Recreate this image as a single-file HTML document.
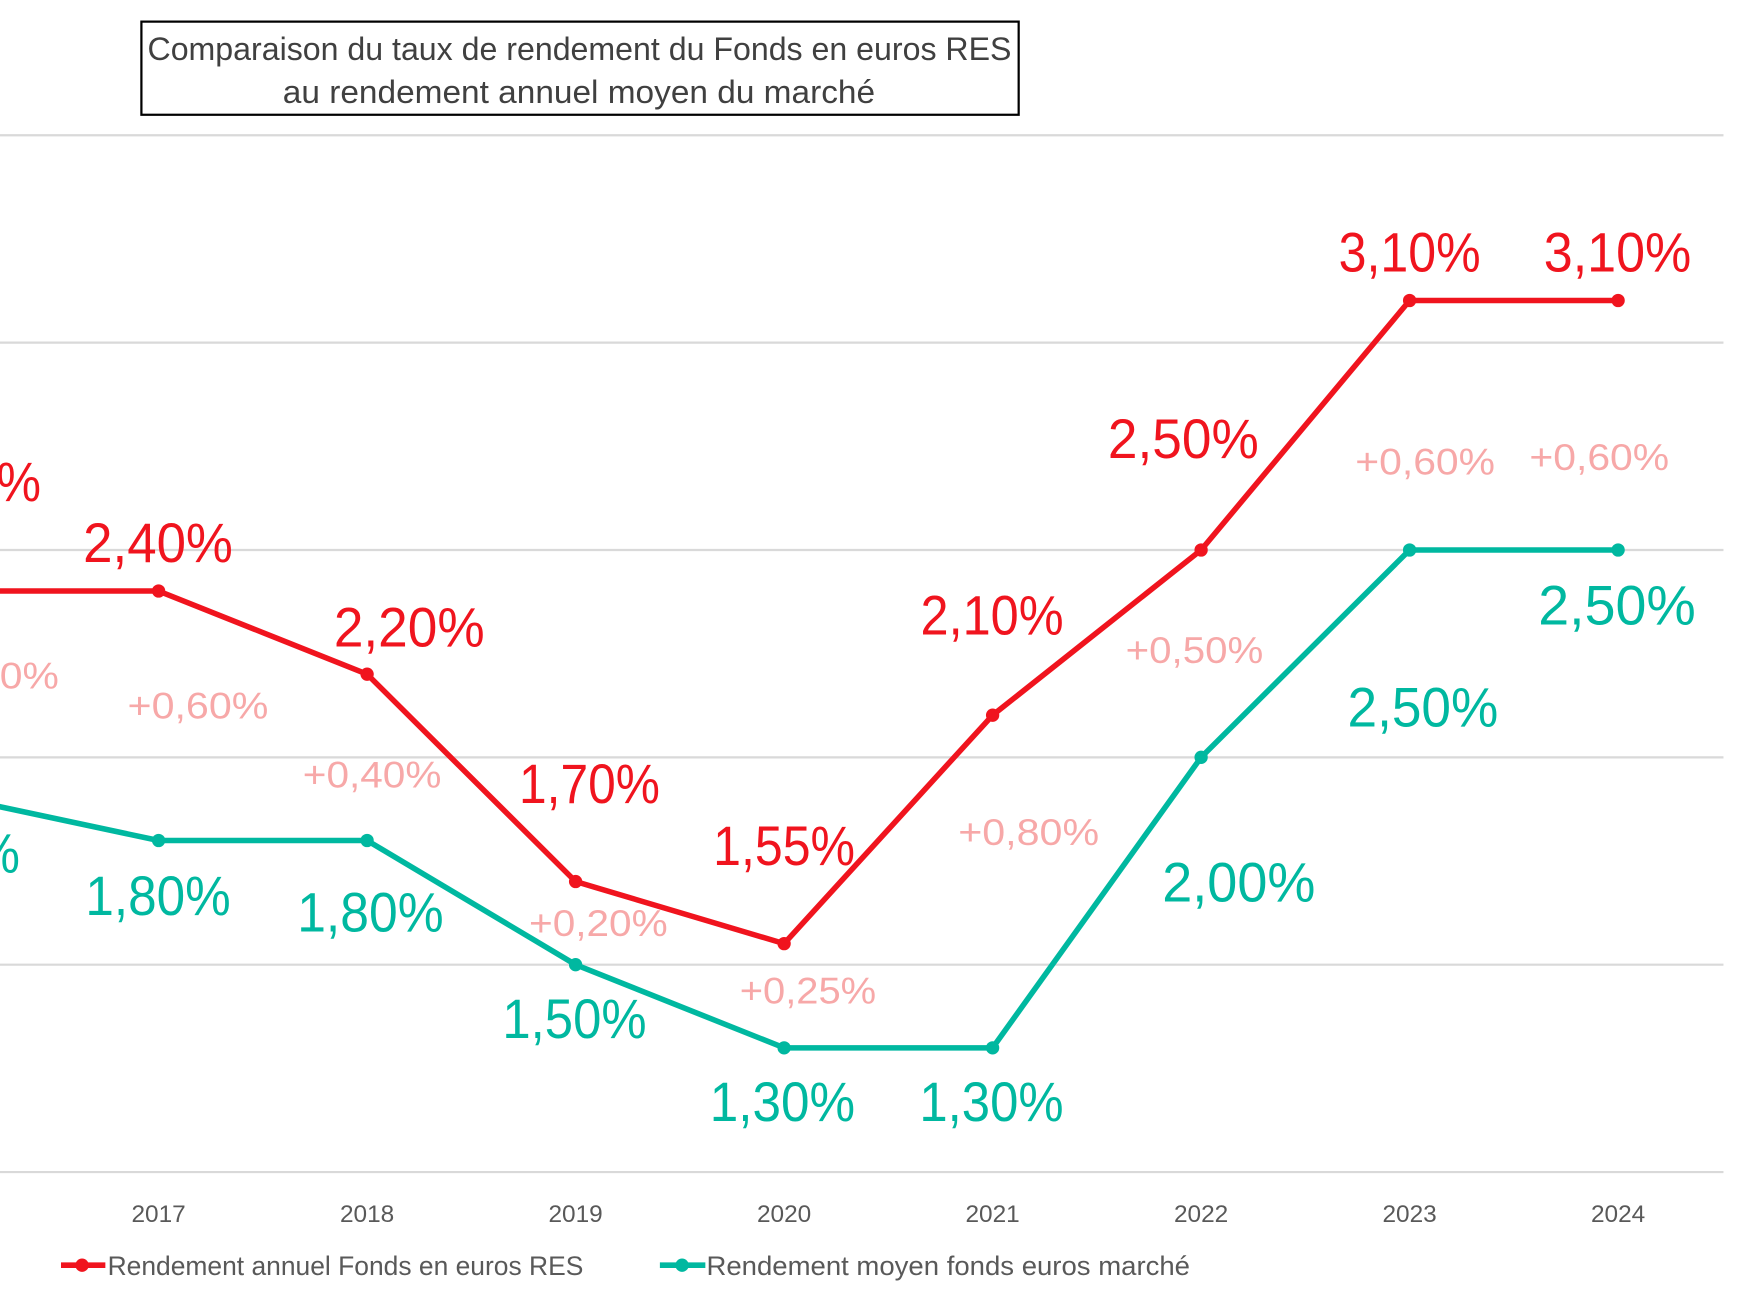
<!DOCTYPE html>
<html><head><meta charset="utf-8"><style>html,body{margin:0;padding:0;background:#fff;overflow:hidden}svg{display:block}text{font-family:"Liberation Sans",sans-serif}</style></head><body>
<svg width="1739" height="1304" viewBox="0 0 1568 1176" preserveAspectRatio="none" xmlns="http://www.w3.org/2000/svg">
<rect width="1568" height="1176" fill="#fff"/>
<g stroke="#d9d9d9" stroke-width="2">
<line x1="0" y1="122" x2="1554" y2="122"/><line x1="0" y1="309" x2="1554" y2="309"/><line x1="0" y1="496" x2="1554" y2="496"/><line x1="0" y1="683" x2="1554" y2="683"/><line x1="0" y1="870" x2="1554" y2="870"/><line x1="0" y1="1057" x2="1554" y2="1057"/>
</g>
<rect x="127.5" y="19.5" width="791" height="84" fill="#fff" stroke="#000" stroke-width="2"/>
<g fill="#404040" font-size="29">
<text x="133" y="54" textLength="779" lengthAdjust="spacingAndGlyphs">Comparaison du taux de rendement du Fonds en euros RES</text>
<text x="255" y="93" textLength="534" lengthAdjust="spacingAndGlyphs">au rendement annuel moyen du marché</text>
</g>
<polyline fill="none" stroke="#00b8a0" stroke-width="5" stroke-linejoin="round" points="-45,718 143,758 331,758 519,870 707,945 895,945 1083,683 1271,496 1459,496"/>
<polyline fill="none" stroke="#f0141e" stroke-width="5" stroke-linejoin="round" points="-45,533 143,533 331,608 519,795 707,851 895,645 1083,496 1271,271 1459,271"/>
<g fill="#00b8a0"><circle cx="143" cy="758" r="6"/><circle cx="331" cy="758" r="6"/><circle cx="519" cy="870" r="6"/><circle cx="707" cy="945" r="6"/><circle cx="895" cy="945" r="6"/><circle cx="1083" cy="683" r="6"/><circle cx="1271" cy="496" r="6"/><circle cx="1459" cy="496" r="6"/></g>
<g fill="#f0141e"><circle cx="143" cy="533" r="6"/><circle cx="331" cy="608" r="6"/><circle cx="519" cy="795" r="6"/><circle cx="707" cy="851" r="6"/><circle cx="895" cy="645" r="6"/><circle cx="1083" cy="496" r="6"/><circle cx="1271" cy="271" r="6"/><circle cx="1459" cy="271" r="6"/></g>
<g fill="#f0141e" font-size="50">
<text x="-91" y="452" textLength="128" lengthAdjust="spacingAndGlyphs">2,40%</text>
<text x="75" y="507" textLength="135" lengthAdjust="spacingAndGlyphs">2,40%</text>
<text x="301" y="583" textLength="136" lengthAdjust="spacingAndGlyphs">2,20%</text>
<text x="468" y="724" textLength="127" lengthAdjust="spacingAndGlyphs">1,70%</text>
<text x="643" y="780" textLength="128" lengthAdjust="spacingAndGlyphs">1,55%</text>
<text x="830" y="572" textLength="129" lengthAdjust="spacingAndGlyphs">2,10%</text>
<text x="999" y="413" textLength="136" lengthAdjust="spacingAndGlyphs">2,50%</text>
<text x="1207" y="245" textLength="128" lengthAdjust="spacingAndGlyphs">3,10%</text>
<text x="1392" y="245" textLength="133" lengthAdjust="spacingAndGlyphs">3,10%</text>
</g>
<g fill="#00b8a0" font-size="50">
<text x="-112" y="787" textLength="130" lengthAdjust="spacingAndGlyphs">1,90%</text>
<text x="77" y="825" textLength="131" lengthAdjust="spacingAndGlyphs">1,80%</text>
<text x="268" y="840" textLength="132" lengthAdjust="spacingAndGlyphs">1,80%</text>
<text x="453" y="936" textLength="130" lengthAdjust="spacingAndGlyphs">1,50%</text>
<text x="640" y="1011" textLength="131" lengthAdjust="spacingAndGlyphs">1,30%</text>
<text x="829" y="1011" textLength="130" lengthAdjust="spacingAndGlyphs">1,30%</text>
<text x="1048" y="813" textLength="138" lengthAdjust="spacingAndGlyphs">2,00%</text>
<text x="1215" y="655" textLength="136" lengthAdjust="spacingAndGlyphs">2,50%</text>
<text x="1387" y="563" textLength="142" lengthAdjust="spacingAndGlyphs">2,50%</text>
</g>
<g fill="#f7a8a8" font-size="33">
<text x="-73" y="621" textLength="126" lengthAdjust="spacingAndGlyphs">+0,50%</text>
<text x="115" y="648" textLength="127" lengthAdjust="spacingAndGlyphs">+0,60%</text>
<text x="273" y="710" textLength="125" lengthAdjust="spacingAndGlyphs">+0,40%</text>
<text x="477" y="844" textLength="125" lengthAdjust="spacingAndGlyphs">+0,20%</text>
<text x="667" y="905" textLength="123" lengthAdjust="spacingAndGlyphs">+0,25%</text>
<text x="864" y="762" textLength="127" lengthAdjust="spacingAndGlyphs">+0,80%</text>
<text x="1015" y="598" textLength="124" lengthAdjust="spacingAndGlyphs">+0,50%</text>
<text x="1222" y="428" textLength="126" lengthAdjust="spacingAndGlyphs">+0,60%</text>
<text x="1379" y="424" textLength="126" lengthAdjust="spacingAndGlyphs">+0,60%</text>
</g>
<g fill="#595959" font-size="22" text-anchor="middle">
<text x="143" y="1102">2017</text><text x="331" y="1102">2018</text><text x="519" y="1102">2019</text><text x="707" y="1102">2020</text><text x="895" y="1102">2021</text><text x="1083" y="1102">2022</text><text x="1271" y="1102">2023</text><text x="1459" y="1102">2024</text>
</g>
<line x1="55" y1="1141" x2="95" y2="1141" stroke="#f0141e" stroke-width="5"/><circle cx="74" cy="1141" r="6" fill="#f0141e"/>
<line x1="595" y1="1141" x2="636" y2="1141" stroke="#00b8a0" stroke-width="5"/><circle cx="615" cy="1141" r="6" fill="#00b8a0"/>
<g fill="#595959" font-size="24">
<text x="97" y="1150" textLength="429" lengthAdjust="spacingAndGlyphs">Rendement annuel Fonds en euros RES</text>
<text x="637" y="1150" textLength="436" lengthAdjust="spacingAndGlyphs">Rendement moyen fonds euros marché</text>
</g>
</svg>
</body></html>
